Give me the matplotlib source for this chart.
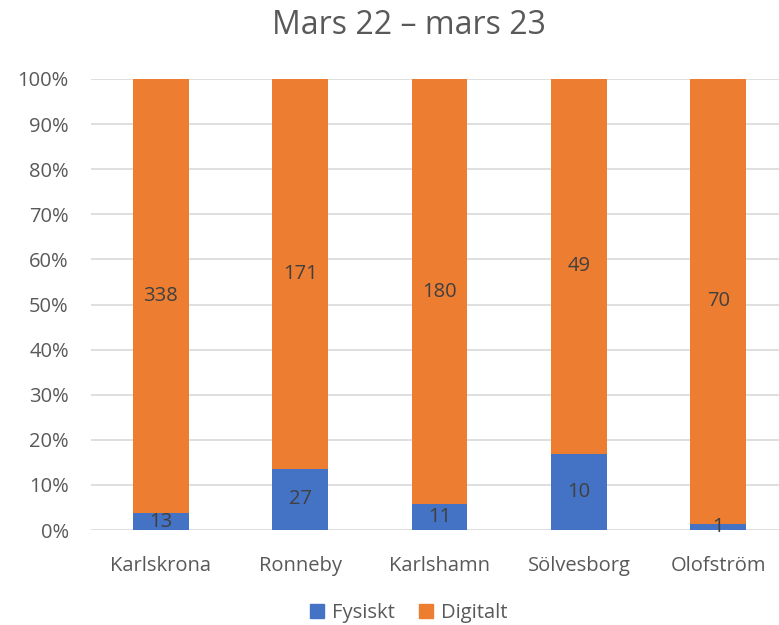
import numpy as np
import matplotlib.pyplot as plt
from matplotlib.patches import Patch

categories = ["Karlskrona", "Ronneby", "Karlshamn", "Sölvesborg", "Olofström"]
fysiskt = [13, 27, 11, 10, 1]
digitalt = [338, 171, 180, 49, 70]
series_names = ["Fysiskt", "Digitalt"]
yticks = [0, 10, 20, 30, 40, 50, 60, 70, 80, 90, 100]

blue = "#4472C4"
orange = "#ED7D31"
txt = "#595959"

plt.rcParams['font.family'] = ['Open Sans', 'DejaVu Sans']

fys = np.array(fysiskt, dtype=float)
dig = np.array(digitalt, dtype=float)
tot = fys + dig
fys_p = fys / tot * 100
dig_p = dig / tot * 100

fig = plt.figure(figsize=(7.79, 6.25), dpi=100)
ax = fig.add_axes([91/779, 95/625, 697/779, 451/625])

x = np.arange(len(categories))
w = 0.4
ax.bar(x, fys_p, w, color=blue, zorder=3)
ax.bar(x, dig_p, w, bottom=fys_p, color=orange, zorder=3)

# labels centred in each segment
for i in range(len(x)):
    ax.text(x[i], fys_p[i] / 2, str(fysiskt[i]), ha='center', va='center',
            fontsize=14.5, color="#404040", zorder=4)
    ax.text(x[i], fys_p[i] + dig_p[i] / 2, str(digitalt[i]), ha='center', va='center',
            fontsize=14.5, color="#404040", zorder=4)

ax.set_xlim(-0.5, 4.5)
ax.set_ylim(0, 100)
ax.set_yticks(yticks)
ax.set_yticklabels([f"{t}%" for t in yticks])
ax.set_xticks(x)
ax.set_xticklabels(categories)
ax.tick_params(axis='both', length=0, labelsize=14.5, colors=txt)
ax.tick_params(axis='x', pad=19)
ax.tick_params(axis='y', pad=16)
ax.grid(axis='y', color="#D9D9D9", linewidth=1.2, zorder=0)
for s in ax.spines.values():
    s.set_visible(False)

fig.text(409/779, 1 - 26/625, "Mars 22 – mars 23", ha='center', va='center',
         fontsize=23, color=txt)

handles = [Patch(color=blue), Patch(color=orange)]
fig.legend(handles, series_names, loc='center', bbox_to_anchor=(409/779, 1 - 613/625),
           ncol=2, frameon=False, fontsize=14.5, labelcolor=txt,
           handlelength=0.7, handleheight=0.7, handletextpad=0.4, columnspacing=1.2)

fig.savefig("out.png", dpi=100)
